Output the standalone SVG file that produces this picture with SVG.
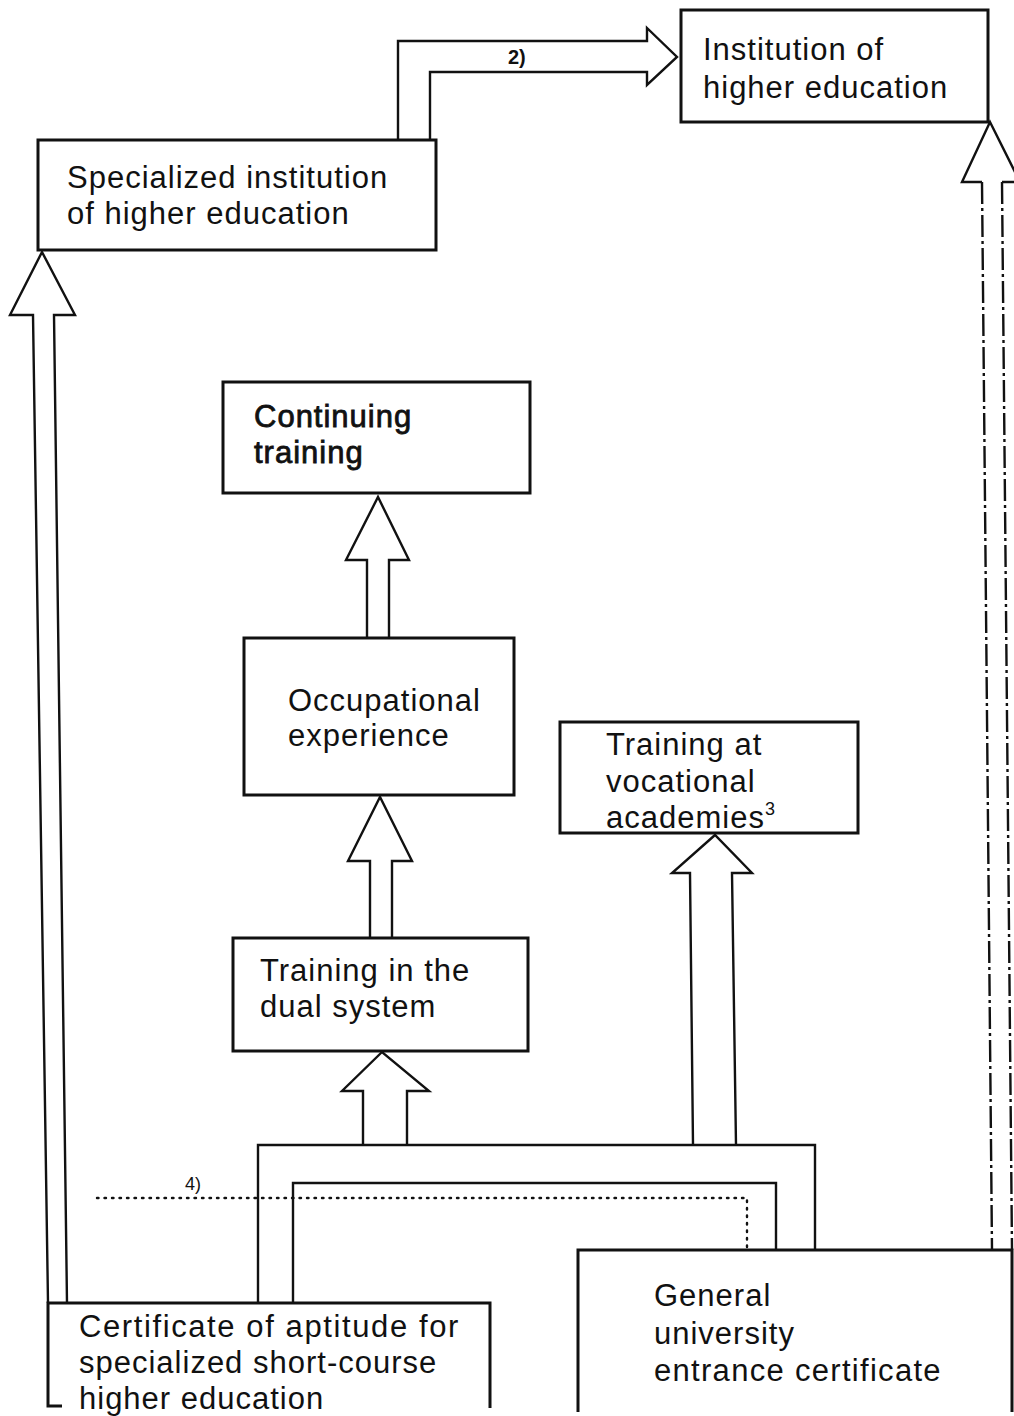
<svg xmlns="http://www.w3.org/2000/svg" width="1014" height="1416" viewBox="0 0 1014 1416">
  <style>
    .box { fill: none; stroke: #111; stroke-width: 3; stroke-linejoin: miter; }
    .wire { fill: none; stroke: #111; stroke-width: 2.4; stroke-linejoin: miter; }
    .broken { fill: none; stroke: #111; stroke-width: 2.4; stroke-dasharray: 22 4 3 4; }
    .dots { fill: none; stroke: #111; stroke-width: 2.4; stroke-dasharray: 1.5 6; stroke-linecap: round; }
    .lbl { font-family: "Liberation Sans", Arial, sans-serif; font-size: 31px; letter-spacing: 1px; fill: #111; }
    .wide { letter-spacing: 1.6px; }
    .note { font-family: "Liberation Sans", Arial, sans-serif; font-size: 20px; font-weight: bold; fill: #111; }
  </style>
  <rect width="1014" height="1416" fill="#fff"/>

  <!-- connectors: hollow arrows and linking lines -->
  <g id="connectors">
    <!-- specialized institution -> institution of higher education (2) -->
    <path class="wire" d="M398,140 L398,41 L647,41 L647,28 L677,57 L647,85 L647,72 L430,72 L430,140"/>
    <text class="note" x="508" y="64">2)</text>

    <!-- certificate of aptitude -> specialized institution -->
    <path class="wire" d="M48,1303 L33,315 L10,315 L42,252 L75,315 L54,315 L67,1303"/>

    <!-- general certificate -> institution of higher education -->
    <path class="wire" d="M982,182 L962,182 L990,122 L1020,182 L1002,182"/>
    <path class="broken" d="M982,182 L992,1250 M1002,182 L1012,1250"/>

    <!-- occupational experience -> continuing training -->
    <path class="wire" d="M367,637 L367,560 L346,560 L378,497 L409,560 L389,560 L389,637"/>

    <!-- dual system -> occupational experience -->
    <path class="wire" d="M370,937 L370,861 L348,861 L380,797 L412,861 L392,861 L392,937"/>

    <!-- shared trunk -> dual system -->
    <path class="wire" d="M363,1145 L363,1091 L342,1091 L382,1052 L429,1091 L407,1091 L407,1145"/>

    <!-- shared trunk -> vocational academies -->
    <path class="wire" d="M693,1145 L690,873 L672,873 L715,835 L752,873 L732,873 L736,1145"/>

    <!-- trunk lines between the two certificates -->
    <path class="wire" d="M258,1303 L258,1145 L815,1145 L815,1250"/>
    <path class="wire" d="M293,1303 L293,1183 L776,1183 L776,1250"/>

    <!-- dotted route (4) -->
    <path class="dots" d="M97,1198 L747,1198 L747,1248"/>
    <text class="note" x="185" y="1190" style="font-weight:normal;font-size:18px">4)</text>
  </g>

  <g id="institution-higher-education">
    <rect class="box" x="681" y="10" width="307" height="112"/>
    <text class="lbl" x="703" y="60">Institution of</text>
    <text class="lbl" x="703" y="98">higher education</text>
  </g>

  <g id="specialized-institution">
    <rect class="box" x="38" y="140" width="398" height="110"/>
    <text class="lbl" x="67" y="188">Specialized institution</text>
    <text class="lbl" x="67" y="224">of higher education</text>
  </g>

  <g id="continuing-training">
    <rect class="box" x="223" y="382" width="307" height="111"/>
    <text class="lbl" x="254" y="427" stroke="#111" stroke-width="0.8">Continuing</text>
    <text class="lbl" x="254" y="463" stroke="#111" stroke-width="0.8">training</text>
  </g>

  <g id="occupational-experience">
    <rect class="box" x="244" y="638" width="270" height="157"/>
    <text class="lbl" x="288" y="711">Occupational</text>
    <text class="lbl" x="288" y="746">experience</text>
  </g>

  <g id="vocational-academies">
    <rect class="box" x="560" y="722" width="298" height="111"/>
    <text class="lbl" x="606" y="755">Training at</text>
    <text class="lbl" x="606" y="792">vocational</text>
    <text class="lbl" x="606" y="828">academies<tspan style="font-size:18px;letter-spacing:0" dy="-13">3</tspan></text>
  </g>

  <g id="dual-system">
    <rect class="box" x="233" y="938" width="295" height="113"/>
    <text class="lbl" x="260" y="981">Training in the</text>
    <text class="lbl" x="260" y="1017">dual system</text>
  </g>

  <g id="general-university-entrance">
    <path class="box" d="M578,1412 L578,1250 L1012,1250 L1012,1412"/>
    <text class="lbl" x="654" y="1306">General</text>
    <text class="lbl" x="654" y="1344">university</text>
    <text class="lbl" x="654" y="1381" style="letter-spacing:1.3px">entrance certificate</text>
  </g>

  <g id="aptitude-certificate">
    <path class="box" d="M62,1406 L48,1406 L48,1303 L490,1303 L490,1408"/>
    <text class="lbl wide" x="79" y="1337">Certificate of aptitude for</text>
    <text class="lbl" x="79" y="1373">specialized short-course</text>
    <text class="lbl" x="79" y="1409">higher education</text>
  </g>
</svg>
